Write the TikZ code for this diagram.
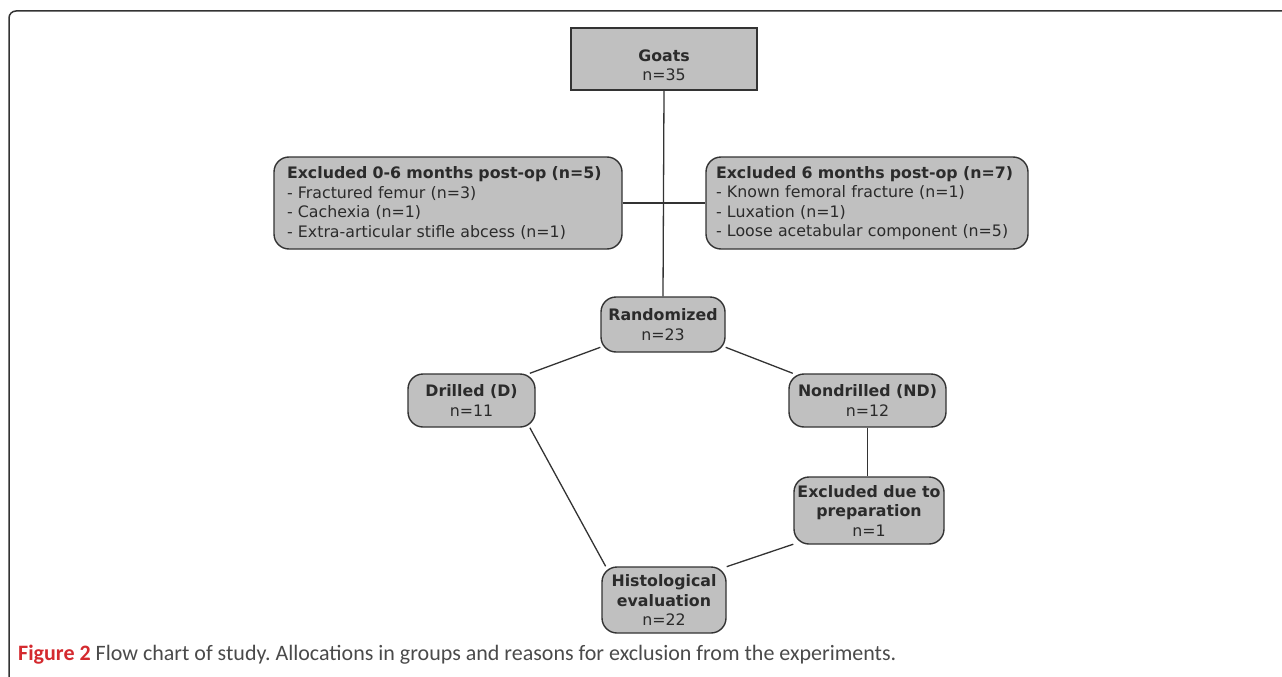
\documentclass[tikz,border=0pt]{standalone}
\usepackage{fontspec}
\setmainfont{DejaVu Sans}
\newfontfamily\capfont{Carlito}
\usetikzlibrary{calc}
\definecolor{boxfill}{HTML}{C0C0C0}
\definecolor{boxdraw}{HTML}{333333}
\definecolor{txt}{HTML}{2B2B2B}
\definecolor{figred}{HTML}{D42A2F}
\definecolor{capgray}{HTML}{4A4A4A}
\frenchspacing
\begin{document}
\begin{tikzpicture}[x=1pt,y=-1pt,
  box/.style={draw=boxdraw, fill=boxfill, line width=1.4pt, text=txt,
    font=\fontsize{15.8}{19.5}\selectfont, inner sep=0pt, align=center},
  rbox/.style={box, rounded corners=15pt},
  lbl/.style={text=txt, font=\fontsize{15.8}{19.5}\selectfont, inner sep=0pt, align=center},
  conn/.style={draw=boxdraw, line width=1.3pt},
  frame/.style={draw=boxdraw, line width=1.5pt, rounded corners=7pt}]
\useasboundingbox (0,0) rectangle (1282,677);
\draw[frame] (9,677) -- (9,11) -- (1282,11);

\node[box, minimum width=186pt, minimum height=62pt] (goats) at (664,59) {};
\node[lbl] (goatst) at (664,65) {\textbf{Goats}\\n=35};
\node[rbox, minimum width=348pt, minimum height=92pt, text width=322pt, align=left] (exl) at (448,203)
  {\textbf{Excluded 0-6 months post-op (n=5)}\\- Fractured femur (n=3)\\- Cachexia (n=1)\\- Extra-articular stifle abcess (n=1)};
\node[rbox, minimum width=322pt, minimum height=92pt, text width=302pt, align=left] (exr) at (867,203)
  {\textbf{Excluded 6 months post-op (n=7)}\\- Known femoral fracture (n=1)\\- Luxation (n=1)\\- Loose acetabular component (n=5)};
\node[rbox, minimum width=124pt, minimum height=55pt] (rand) at (663,324.5)
  {\textbf{Randomized}\\n=23};
\node[rbox, minimum width=127pt, minimum height=53pt] (dr) at (471.5,400.5)
  {\textbf{Drilled (D)}\\n=11};
\node[rbox, minimum width=157pt, minimum height=53pt] (nd) at (867.5,400.5)
  {\textbf{Nondrilled (ND)}\\n=12};
\node[rbox, minimum width=150pt, minimum height=67pt] (prep) at (869,510.5)
  {\textbf{Excluded due to}\\\textbf{preparation}\\n=1};
\node[rbox, minimum width=124pt, minimum height=66pt] (hist) at (664,600)
  {\textbf{Histological}\\\textbf{evaluation}\\n=22};

\draw[conn] (goats.south) -- (rand.north);
\draw[conn] (exl.east) -- (exr.west);
\draw[conn] (rand.200) -- (dr.25);
\draw[conn] (rand.340) -- (nd.160);
\draw[conn] (nd.south) -- (nd.south |- prep.north);
\draw[conn] (dr.-25) -- (hist.150);
\draw[conn] (prep.204) -- (hist.28);

\node[anchor=base west, inner sep=0pt, font=\capfont\fontsize{22}{23}\selectfont, text=capgray] (cap) at (18,660)
  {\textcolor{figred}{\bfseries Figure 2} Flow chart of study. Allocations in groups and reasons for exclusion from the experiments.};
\end{tikzpicture}
\end{document}
